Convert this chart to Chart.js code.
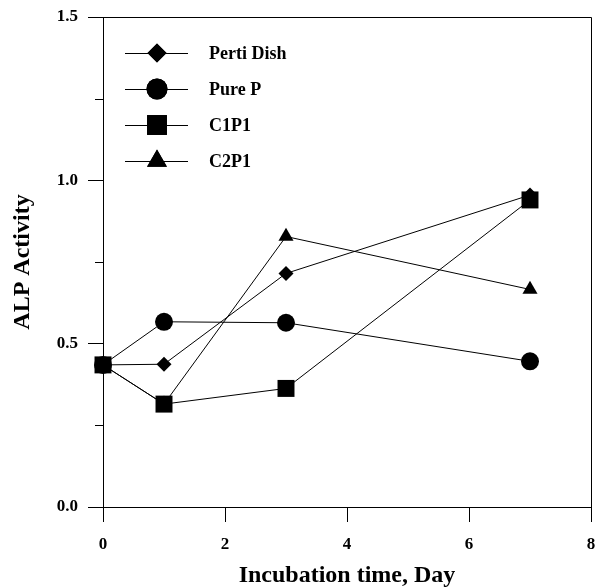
<!DOCTYPE html>
<html>
<head>
<meta charset="UTF-8">
<title>ALP Activity</title>
<script src="https://cdn.jsdelivr.net/npm/chart.js"></script>
<style>
  html, body { margin: 0; padding: 0; background: #fff; }
  #wrap { width: 596px; height: 588px; }
</style>
</head>
<body>
<div id="wrap"><canvas id="alpChart" width="596" height="588"></canvas></div>
<script>
// days of incubation
const days = [0, 1, 3, 7];
// ALP activity per group
const pertiDish = [0.435, 0.437, 0.715, 0.955];
const pureP     = [0.435, 0.567, 0.564, 0.446];
const c1p1      = [0.435, 0.315, 0.363, 0.940];
const c2p1      = [0.435, 0.315, 0.828, 0.666];
const seriesNames = ['Perti Dish', 'Pure P', 'C1P1', 'C2P1'];

const serif = '"Liberation Serif", "Times New Roman", serif';

function pts(vals) {
  return days.map((d, i) => ({ x: d, y: vals[i] }));
}

function ds(label, vals, style, radius, legendRadius) {
  return {
    label: label,
    data: pts(vals),
    borderColor: '#000',
    backgroundColor: '#000',
    borderWidth: 1,
    pointStyle: style,
    pointRadius: radius,
    pointHoverRadius: radius,
    pointBackgroundColor: '#000',
    pointBorderColor: '#000',
    pointBorderWidth: 0,
    legendRadius: legendRadius,
    tension: 0,
    clip: false
  };
}

// draws the top/right frame, minor ticks and the legend box
const extras = {
  id: 'extras',
  afterDatasetsDraw(chart) {
    const ctx = chart.ctx;
    const a = chart.chartArea;
    const y = chart.scales.y;
    ctx.save();
    ctx.strokeStyle = '#000';
    ctx.lineWidth = 1;
    ctx.beginPath();
    ctx.moveTo(a.left, a.top + 0.5);
    ctx.lineTo(a.right + 0.5, a.top + 0.5);
    ctx.lineTo(a.right + 0.5, a.bottom);
    ctx.stroke();

    // minor y ticks
    [0.25, 0.75, 1.25].forEach(v => {
      const py = Math.round(y.getPixelForValue(v)) + 0.5;
      ctx.beginPath();
      ctx.moveTo(a.left - 8, py);
      ctx.lineTo(a.left, py);
      ctx.stroke();
    });

    // legend
    ctx.font = 'bold 18px ' + serif;
    ctx.textBaseline = 'middle';
    ctx.fillStyle = '#000';
    chart.data.datasets.forEach((d, i) => {
      const ly = a.top + 36 + i * 36;
      const lx = a.left + 22;
      ctx.beginPath();
      ctx.moveTo(lx, ly + 0.5);
      ctx.lineTo(lx + 63, ly + 0.5);
      ctx.stroke();
      Chart.helpers.drawPoint(ctx, {
        pointStyle: d.pointStyle,
        radius: d.legendRadius,
        rotation: 0,
        borderWidth: 0
      }, lx + 32, ly);
      ctx.fill();
      ctx.fillText(d.label, lx + 84, ly + 1);
    });
    ctx.restore();
  }
};

new Chart(document.getElementById('alpChart'), {
  type: 'line',
  data: {
    datasets: [
      ds(seriesNames[0], pertiDish, 'rectRot', 7.5, 9.5),
      ds(seriesNames[1], pureP, 'circle', 9, 10.5),
      ds(seriesNames[2], c1p1, 'rect', 12, 14),
      ds(seriesNames[3], c2p1, 'triangle', 8.7, 11.5)
    ]
  },
  options: {
    responsive: false,
    animation: false,
    layout: { autoPadding: false, padding: { top: 17, right: 5, left: 0, bottom: 0 } },
    plugins: {
      legend: { display: false },
      tooltip: { enabled: false }
    },
    scales: {
      x: {
        type: 'linear',
        min: 0,
        max: 8,
        afterFit(s) { s.height = 81; s.paddingRight = 0; s.paddingLeft = 0; },
        ticks: {
          stepSize: 2,
          color: '#000',
          padding: 12,
          maxRotation: 0,
          font: { family: serif, size: 17, weight: 'bold' }
        },
        grid: {
          drawOnChartArea: false,
          drawTicks: true,
          tickLength: 15,
          tickColor: '#000'
        },
        border: { display: true, color: '#000', width: 1 },
        title: {
          display: true,
          text: 'Incubation time, Day',
          color: '#000',
          padding: { top: 0, bottom: 0 },
          font: { family: serif, size: 24, weight: 'bold', lineHeight: 1 }
        }
      },
      y: {
        min: 0,
        max: 1.5,
        afterFit(s) { s.width = 103; s.paddingTop = 0; s.paddingBottom = 0; },
        ticks: {
          stepSize: 0.25,
          color: '#000',
          padding: 10,
          font: { family: serif, size: 17, weight: 'bold' },
          callback: v => (Math.abs(v * 2 - Math.round(v * 2)) < 1e-6 ? v.toFixed(1) : '')
        },
        grid: {
          drawOnChartArea: false,
          drawTicks: true,
          tickLength: 15,
          tickColor: c => (Math.abs(c.tick.value * 2 - Math.round(c.tick.value * 2)) < 1e-6 ? '#000' : 'rgba(0,0,0,0)')
        },
        border: { display: true, color: '#000', width: 1 },
        title: {
          display: true,
          text: 'ALP Activity',
          color: '#000',
          padding: { top: 8, bottom: 0 },
          font: { family: serif, size: 24, weight: 'bold', lineHeight: 1.2 }
        }
      }
    }
  },
  plugins: [extras]
});
</script>
</body>
</html>
